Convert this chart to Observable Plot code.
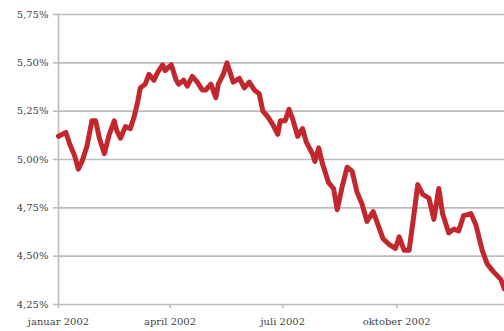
<!DOCTYPE html>
<html>
<head>
<meta charset="utf-8">
<script src="https://cdn.jsdelivr.net/npm/d3@7"></script>
<script src="https://cdn.jsdelivr.net/npm/@observablehq/plot@0.6"></script>
<style>
  html, body { margin: 0; padding: 0; background: #fff; }
  #chart svg { display: block; }
</style>
</head>
<body>
<div id="chart"></div>
<script>
// Rente 2002 (i procent)
const dates = [
  "2002-01-01","2002-01-07","2002-01-10","2002-01-14","2002-01-17","2002-01-20","2002-01-24","2002-01-28","2002-01-31",
  "2002-02-03","2002-02-07","2002-02-11","2002-02-15","2002-02-17","2002-02-20","2002-02-24","2002-02-28",
  "2002-03-03","2002-03-06","2002-03-08","2002-03-12","2002-03-15","2002-03-19","2002-03-22","2002-03-26","2002-03-28",
  "2002-04-02","2002-04-06","2002-04-08","2002-04-12","2002-04-15","2002-04-19","2002-04-23","2002-04-27","2002-04-30",
  "2002-05-04","2002-05-08","2002-05-10","2002-05-14","2002-05-17","2002-05-20","2002-05-22","2002-05-27","2002-05-31",
  "2002-06-04","2002-06-08","2002-06-12","2002-06-15","2002-06-19","2002-06-23","2002-06-27","2002-06-29",
  "2002-07-03","2002-07-06","2002-07-09","2002-07-13","2002-07-17","2002-07-20","2002-07-25","2002-07-27","2002-07-30",
  "2002-08-02","2002-08-07","2002-08-11","2002-08-14","2002-08-18","2002-08-22","2002-08-26","2002-08-30",
  "2002-09-03","2002-09-07","2002-09-12","2002-09-16","2002-09-20","2002-09-25","2002-09-30",
  "2002-10-03","2002-10-07","2002-10-11","2002-10-15","2002-10-18","2002-10-22","2002-10-27","2002-10-31",
  "2002-11-04","2002-11-07","2002-11-12","2002-11-16","2002-11-20","2002-11-24","2002-11-30",
  "2002-12-04","2002-12-09","2002-12-13","2002-12-18","2002-12-24","2002-12-27"
];
const rates = [
  5.12, 5.14, 5.08, 5.02, 4.95, 4.99, 5.07, 5.20, 5.20,
  5.11, 5.03, 5.13, 5.20, 5.15, 5.11, 5.17, 5.16,
  5.22, 5.30, 5.37, 5.39, 5.44, 5.41, 5.45, 5.49, 5.46,
  5.49, 5.41, 5.39, 5.41, 5.38, 5.43, 5.40, 5.36, 5.36,
  5.39, 5.32, 5.39, 5.44, 5.50, 5.44, 5.40, 5.42, 5.37,
  5.40, 5.36, 5.34, 5.25, 5.22, 5.18, 5.13, 5.20,
  5.20, 5.26, 5.21, 5.12, 5.16, 5.09, 5.03, 4.99, 5.06,
  4.98, 4.88, 4.85, 4.74, 4.86, 4.96, 4.94, 4.83,
  4.77, 4.68, 4.73, 4.66, 4.59, 4.56, 4.54,
  4.60, 4.53, 4.53, 4.72, 4.87, 4.82, 4.80, 4.69,
  4.85, 4.72, 4.62, 4.64, 4.63, 4.71, 4.72,
  4.66, 4.53, 4.46, 4.42, 4.38, 4.33
];

const yTicks = [4.25, 4.50, 4.75, 5.00, 5.25, 5.50, 5.75];
const monthTicks = ["2002-01-01", "2002-04-01", "2002-07-01", "2002-10-01"];
const monthLabels = ["januar 2002", "april 2002", "juli 2002", "oktober 2002"];

const parse = d3.utcParse("%Y-%m-%d");
const series = dates.map((d, i) => ({date: parse(d), rate: rates[i]}));
const tickDates = monthTicks.map(parse);
const xStart = parse("2002-01-01");
const xEnd = parse("2002-12-27");

const pct = v => v.toFixed(2).replace(".", ",") + "%";

const chart = Plot.plot({
  width: 504,
  height: 331,
  marginLeft: 58,
  marginRight: 0,
  marginTop: 14,
  marginBottom: 27,
  style: {fontFamily: "'DejaVu Serif', serif", fontSize: "10px", color: "#444", background: "#fff"},
  x: {type: "utc", domain: [xStart, xEnd]},
  y: {domain: [4.25, 5.75]},
  marks: [
    // horizontal grid lines
    Plot.ruleY(yTicks, {stroke: "#bdbdbd", strokeWidth: 1.6, strokeOpacity: 1}),
    // vertical axis line
    Plot.ruleX([xStart], {y1: 4.25, y2: 5.75, stroke: "#bdbdbd", strokeWidth: 1.6}),
    Plot.axisY({
      ticks: yTicks, tickFormat: pct, tickSize: 5, tickPadding: 5,
      stroke: "#bdbdbd", strokeWidth: 1.6, label: null, fill: "#444"
    }),
    Plot.axisX({
      ticks: tickDates, tickFormat: (d, i) => monthLabels[i], tickSize: 4, tickPadding: 9,
      stroke: "#bdbdbd", strokeWidth: 1.6, label: null, fill: "#444"
    }),
    Plot.line(series, {
      x: "date", y: "rate", stroke: "#c1272d", strokeWidth: 5,
      strokeLinejoin: "round", strokeLinecap: "round"
    })
  ]
});

document.getElementById("chart").appendChild(chart);
</script>
</body>
</html>
